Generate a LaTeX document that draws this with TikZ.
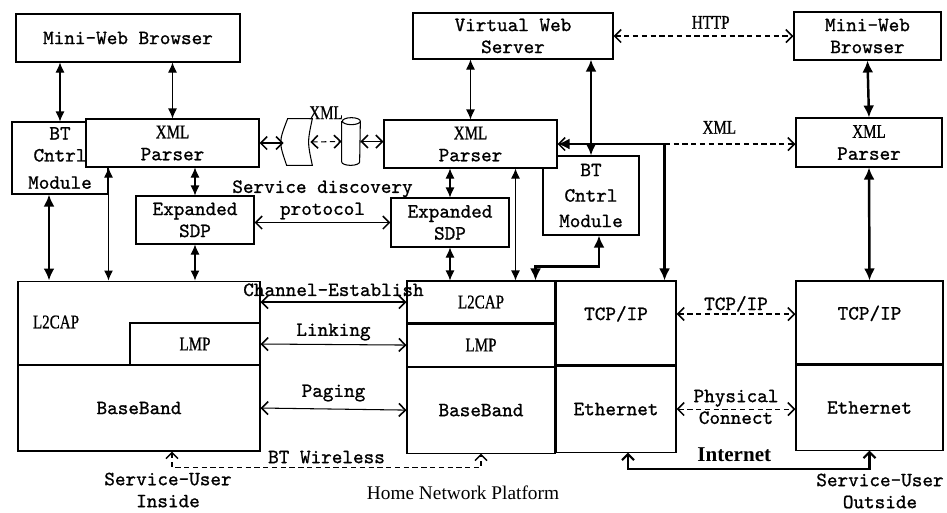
\documentclass[tikz,border=0pt]{standalone}
\usepackage{fontspec}
\setmainfont{Liberation Serif}
\newfontfamily\monofont[FakeBold=1]{lmmono10-regular.otf}
\newfontfamily\narrowfont[FakeStretch=0.78, FakeBold=0.8]{Liberation Serif}
\newcommand{\xmltxt}[1]{{\narrowfont\fontsize{11}{12.5}\selectfont #1}}
\usetikzlibrary{arrows.meta, positioning, shapes.geometric, calc}

\begin{document}
\begin{tikzpicture}[
  x=0.02cm, y=-0.02cm,
  block/.style = {draw, fill=white, line width=0.6pt, align=center, inner sep=1pt, font=\monofont\fontsize{11.5}{12.5}\selectfont},
  lbl/.style = {font=\monofont\fontsize{11.5}{12.5}\selectfont, align=center, inner sep=1pt},
  xmllbl/.style = {font=\narrowfont\fontsize{11}{13}\selectfont, inner sep=1pt},
  dbl/.style = {line width=0.6pt, {Latex[length=2mm, width=1.8mm]}-{Latex[length=2mm, width=1.8mm]}},
  thickdbl/.style = {line width=1.4pt, {Latex[length=2.4mm, width=2.2mm]}-{Latex[length=2.4mm, width=2.2mm]}},
  barbs/.style = {line width=0.6pt, {Straight Barb[length=1.3mm, width=2.6mm, line width=0.9pt]}-{Straight Barb[length=1.3mm, width=2.6mm, line width=0.9pt]}},
  dbarbs/.style = {barbs, dash pattern=on 3pt off 2pt},
  inet/.style = {line width=1.2pt, {Straight Barb[length=1.2mm, width=2.4mm]}-{Straight Barb[length=1.2mm, width=2.4mm]}},
  dinet/.style = {line width=0.8pt, dash pattern=on 3pt off 2pt, {Straight Barb[length=1.2mm, width=2.4mm]}-{Straight Barb[length=1.2mm, width=2.4mm]}}
]
  \useasboundingbox (0,0) rectangle (947,512);

  % Top row
  \node[block, minimum width=4.48cm, minimum height=0.96cm] (lbrowser) at (128,38) {Mini-Web Browser};
  \node[block, minimum width=4cm, minimum height=0.92cm] (vserver) at (513,36) {Virtual Web\\Server};
  \node[block, minimum width=2.94cm, minimum height=0.96cm] (rbrowser) at (867.5,36) {Mini-Web\\Browser};

  % Left device
  \node[block, minimum width=1.92cm, minimum height=1.44cm] (lbt) at (60,158) {BT\\Cntrl\\[3pt]Module};
  \node[block, minimum width=3.46cm, minimum height=0.96cm] (lparser) at (172.5,143) {\xmltxt{XML}\\Parser};
  \node[block, minimum width=2.36cm, minimum height=0.96cm] (lsdp) at (195,220) {Expanded\\SDP};
  \node[block, minimum width=4.84cm, minimum height=3.4cm] (lstack) at (139,366) {};
  \node[block, minimum width=4.84cm, minimum height=1.72cm] (lbase) at (139,408) {BaseBand};
  \node[block, minimum width=2.6cm, minimum height=0.84cm] (lmp) at (195,344) {\xmltxt{LMP}};
  \node[lbl] (l2captxt) at (56,322) {\xmltxt{L2CAP}};

  % XML pipe
  \node[minimum width=0.56cm, minimum height=0.92cm, inner sep=0pt] (xmlband) at (298,142) {};
  \draw[line width=0.6pt] ([xshift=0.08cm]xmlband.north west) .. controls ([xshift=-0.1cm]xmlband.west) .. ([xshift=0.06cm]xmlband.south west) -- (xmlband.south east) .. controls ([xshift=-0.1cm]xmlband.east) .. (xmlband.north east) -- cycle;
  \node[minimum width=0.36cm, minimum height=0.94cm, inner sep=0pt] (xmlpipe) at (351,141.5) {};
  \draw[line width=0.6pt] ([yshift=-0.07cm]xmlpipe.north west) -- ([yshift=0.07cm]xmlpipe.south west) arc[start angle=180, end angle=360, x radius=0.18cm, y radius=0.07cm] -- ([yshift=-0.07cm]xmlpipe.north east) arc[start angle=0, end angle=360, x radius=0.18cm, y radius=0.07cm];

  % Home network platform
  \node[block, minimum width=1.92cm, minimum height=1.58cm] (mbt) at (591,195.5) {BT\\[2pt]Cntrl\\[2pt]Module};
  \node[block, minimum width=3.46cm, minimum height=0.96cm] (mparser) at (470.5,144) {\xmltxt{XML}\\Parser};
  \node[block, minimum width=2.36cm, minimum height=0.98cm] (msdp) at (450,222.5) {Expanded\\SDP};
  \node[block, minimum width=2.96cm, minimum height=0.84cm] (ml2cap) at (481,302) {\xmltxt{L2CAP}};
  \node[block, minimum width=2.96cm, minimum height=0.84cm, below=0pt of ml2cap] (mlmp) {\xmltxt{LMP}};
  \node[block, minimum width=2.96cm, minimum height=1.72cm, below=0pt of mlmp] (mbase) {BaseBand};
  \node[block, minimum width=2.4cm, minimum height=1.68cm, text depth=0.4cm, right=0pt of ml2cap.north east, anchor=north west] (mtcp) {TCP/IP};
  \node[block, minimum width=2.4cm, minimum height=1.72cm, below=0pt of mtcp] (meth) {Ethernet};

  % Outside device
  \node[block, minimum width=2.92cm, minimum height=0.98cm] (rparser) at (869,142.5) {\xmltxt{XML}\\Parser};
  \node[block, minimum width=2.94cm, minimum height=1.66cm, text depth=0.4cm] (rtcp) at (869.5,322.5) {TCP/IP};
  \node[block, minimum width=2.94cm, minimum height=1.7cm, below=0pt of rtcp] (reth) {Ethernet};

  % Captions
  \node[lbl] (userin) at (168,490) {Service-User\\Inside};
  \node[lbl] (userout) at (880,491) {Service-User\\Outside};
  \node[font=\fontsize{11}{13}\selectfont] (platform) at (463,493) {Home Network Platform};

  % Left connections
  \draw[dbl] (lbt.north |- lbrowser.south) -- (lbt.north);
  \draw[dbl] (lparser.north |- lbrowser.south) -- (lparser.north);
  \draw[thickdbl] ([xshift=-0.22cm]lbt.south) -- ([xshift=-0.22cm]lbt.south |- lstack.north);
  \draw[dbl] (lbt.east |- lparser.south) -- (lbt.east |- lstack.north);
  \draw[dbl] (lsdp.north |- lparser.south) -- (lsdp.north);
  \draw[dbl] (lsdp.south) -- (lsdp.south |- lstack.north);
  \draw[barbs] (lparser.east) -- (lparser.east -| xmlband.west);
  \draw[dbarbs] ([xshift=-0.04cm]xmlband.east) -- (xmlpipe.west) node[midway, yshift=0.58cm, xmllbl] {XML};
  \draw[barbs] (xmlpipe.east) -- (xmlpipe.east -| mparser.west);

  % Bluetooth links
  \draw[barbs] (lsdp.east |- msdp.west) -- (msdp.west) node[midway, above=0.5pt, lbl] {Service discovery\\protocol};
  \draw[barbs] (lstack.east |- ml2cap.west) -- (ml2cap.west) node[midway, above=2pt, lbl] {Channel-Establish};
  \draw[barbs] (lmp.east) -- (mlmp.west) node[midway, above=1pt, lbl] {Linking};
  \draw[barbs] (lbase.east) -- (mbase.west) node[midway, above=3pt, lbl] {Paging};
  \draw[dinet] ([xshift=0.66cm]lbase.south) -- ++(0,16) -| node[pos=0.25, above=1pt, lbl] {BT Wireless} (mbase.south);

  % Middle connections
  \draw[dbl] (mparser.north) -- (mparser.north |- vserver.south);
  \draw[thickdbl] (mbt.north) -- (mbt.north |- vserver.south);
  \draw[dbl] (msdp.north) -- (msdp.north |- mparser.south);
  \draw[dbl] (msdp.south) -- (msdp.south |- ml2cap.north);
  \draw[dbl] ([xshift=-0.84cm]mparser.south east) -- ([xshift=-0.84cm]mparser.south east |- ml2cap.north);
  \draw[thickdbl] ([xshift=0.16cm]mbt.south) -- ++(0,31) -| ([xshift=-0.4cm]ml2cap.north east);
  \coordinate (xmlsplit) at ([xshift=-0.24cm]mtcp.north east |- mparser.east);
  \draw[dbarbs] (mparser.east) -- (mparser.east -| rparser.west) node[pos=0.68, above=0.16cm, xmllbl] {XML};
  \draw[thickdbl] (mparser.east) -- (xmlsplit) -- (xmlsplit |- mtcp.north);

  % Outside connections
  \draw[dbarbs] (vserver.east) -- (rbrowser.west) node[pos=0.54, above=0.1cm, xmllbl] {HTTP};
  \draw[thickdbl] (rparser.north) -- (rbrowser.south);
  \draw[thickdbl] (rparser.south) -- (rtcp.north);
  \draw[dbarbs] ([yshift=0.18cm]mtcp.east) -- ([yshift=0.18cm]mtcp.east -| rtcp.west) node[midway, above, lbl] {TCP/IP};
  \draw[dbarbs] (meth.east) -- (meth.east -| reth.west) node[midway, above, lbl] {Physical} node[midway, below, lbl] {Connect};
  \draw[inet] ([xshift=0.24cm]meth.south) -- ++(0,16) -| node[pos=0.22, above=0pt, font=\fontsize{12}{14}\selectfont\bfseries] {Internet} (reth.south);

\end{tikzpicture}
\end{document}
